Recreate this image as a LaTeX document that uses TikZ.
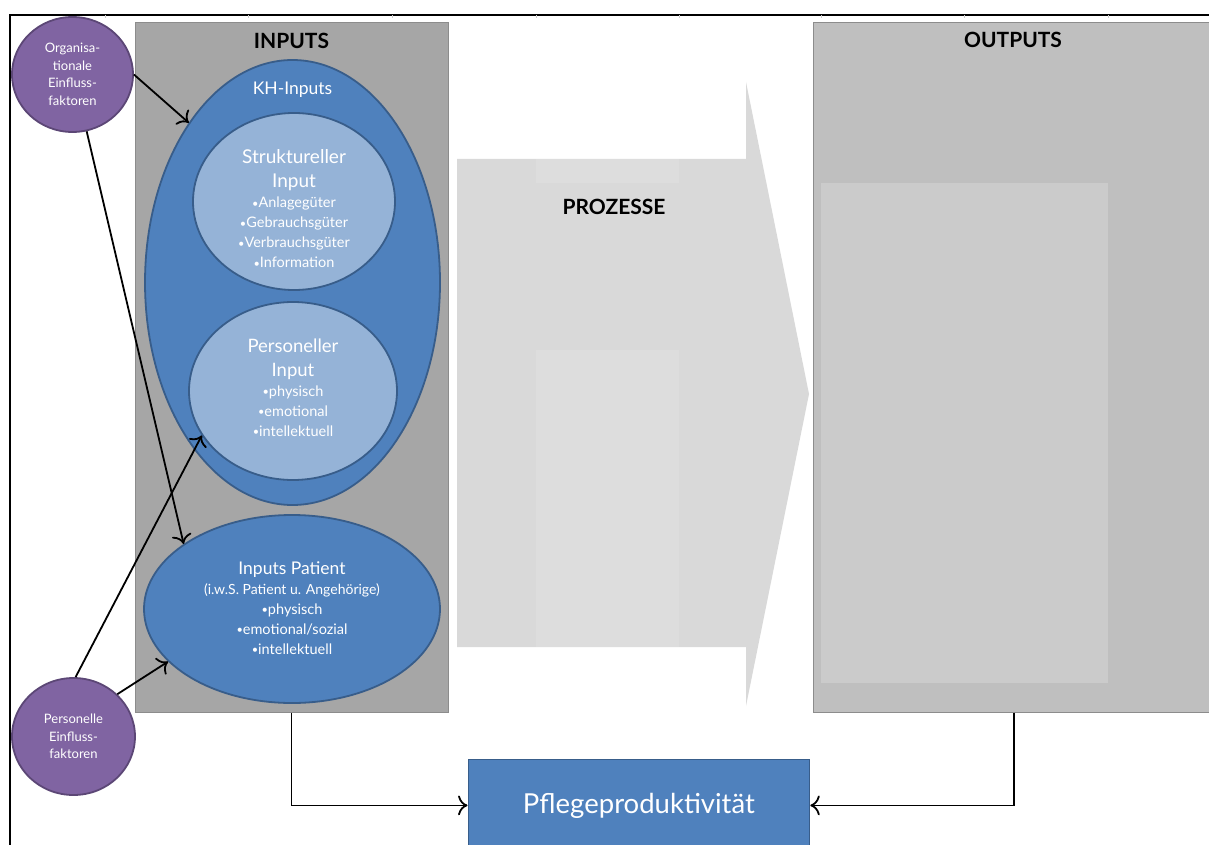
\documentclass[tikz,border=0pt]{standalone}
\usepackage{fontspec}
\setmainfont{Lato}
\usetikzlibrary{shapes.geometric,positioning,arrows.meta}

\definecolor{inputgray}{HTML}{A6A6A6}
\definecolor{panelline}{HTML}{8C8C8C}
\definecolor{outgray}{HTML}{BFBFBF}
\definecolor{outinner}{HTML}{CBCBCB}
\definecolor{prozgray}{HTML}{D9D9D9}
\definecolor{prozband}{HTML}{DDDDDD}
\definecolor{khblue}{HTML}{4F81BD}
\definecolor{khline}{HTML}{385D8A}
\definecolor{lightblue}{HTML}{95B3D7}
\definecolor{factorpurple}{HTML}{8064A2}
\definecolor{factorline}{HTML}{5C4776}

% small bullet as in the bullet lists
\newcommand{\bul}{{\fontsize{11}{11}\selectfont\raisebox{0.15ex}{•}}}

\begin{document}
\begin{tikzpicture}[x=1pt, y=-1pt, >={To[scale=1.7]},
  panel/.style={rectangle, draw=panelline, line width=1pt, inner sep=0pt},
  blueell/.style={ellipse, draw=khline, line width=1.8pt, fill=khblue, inner sep=0pt},
  lightell/.style={ellipse, draw=khline, line width=1.8pt, fill=lightblue, inner sep=0pt},
  factor/.style={ellipse, draw=factorline, line width=1.8pt, fill=factorpurple, inner sep=0pt,
    text=white, align=center, font=\fontsize{13}{17.5}\selectfont},
  title/.style={font=\fontsize{21}{24}\selectfont\bfseries},
  intext/.style={text=white, align=center, font=\fontsize{14.5}{20}\selectfont},
  link/.style={line width=1.8pt}]

  \useasboundingbox (0,0) rectangle (1209,845);

  % page frame with the faint column marks
  \draw[line width=1.6pt] (10,845) -- (10,15) -- (1209,15);
  \foreach \x in {105,248,392,536,679,821,964,1108}
    \draw[black!20, line width=0.6pt] (\x,15) -- (\x,18);

  % INPUTS panel
  \node[panel, fill=inputgray, minimum width=313, minimum height=690] (Inputs) at (291.5,367.2) {};
  \node[title] (InputsTitle) at (291.5,41) {INPUTS};

  % KH-Inputs with its two inner ellipses
  \node[blueell, minimum width=295, minimum height=445] (KH) at (292.5,282.5) {};
  \node[text=white, font=\fontsize{17.5}{20}\selectfont] (KHTitle) at (292.5,90) {KH-Inputs};
  \node[lightell, minimum width=202, minimum height=177] (Struktur) at (294,201.5) {};
  \node[intext] (StrukturText) at (294,209) {{\fontsize{19}{20}\selectfont Struktureller}\\[4pt]
    {\fontsize{19}{20}\selectfont Input}\\ \bul Anlagegüter\\ \bul Gebrauchsgüter\\ \bul Verbrauchsgüter\\ \bul Information};
  \node[lightell, minimum width=208, minimum height=178] (Personell) at (293,391) {};
  \node[intext] (PersonellText) at (293,388) {{\fontsize{18.5}{20}\selectfont Personeller}\\[4pt]
    {\fontsize{18.5}{20}\selectfont Input}\\ \bul physisch\\ \bul emotional\\ \bul intellektuell};

  % patient inputs
  \node[blueell, minimum width=296, minimum height=188] (Patient) at (292,609) {};
  \node[intext] (PatientText) at (292,608) {{\fontsize{17.5}{20}\selectfont Inputs Patient}\\
    {\fontsize{14}{14}\selectfont (i.w.S. Patient u. Angehörige)}\\ \bul physisch\\ \bul emotional/sozial\\ \bul intellektuell};

  % PROZESSE arrow
  \fill[prozgray] (457,159) -- (746,159) -- (746,82) -- (809,394) -- (746,706) -- (746,647) -- (457,647) -- cycle;
  \fill[prozband] (536,159) rectangle (679,183);
  \fill[prozband] (536,350) rectangle (679,647);
  \node[title] (ProzesseTitle) at (614,207) {PROZESSE};

  % OUTPUTS panel
  \node[panel, fill=outgray, anchor=north west, minimum width=402, minimum height=689] (Outputs) at (812.5,22.5) {};
  \fill[outinner] (821,183) rectangle (1108,683);
  \node[title] (OutputsTitle) at (1013,40) {OUTPUTS};

  % influence factors
  \node[factor, minimum width=121, minimum height=115] (Org) at (72.5,74.5) {Organisa-\\tionale\\Einfluss-\\faktoren};
  \node[factor, minimum width=123, minimum height=117] (Pers) at (73.5,736.5) {Personelle\\Einfluss-\\faktoren};

  % result
  \node[rectangle, draw=khline, line width=1.8pt, fill=khblue, anchor=north west, minimum width=341,
    minimum height=92, text=white, font=\fontsize{27.5}{32}\selectfont] (Pflege) at (467.5,758.5) {Pflegeproduktivität};

  % edges
  \draw[->, link] (Org.east) -- (KH.123);
  \draw[->, link] (Org.-76) -- (Patient.149);
  \draw[->, link] (Pers.88) -- (Personell.206);
  \draw[->, link] (Pers.44) -- (Patient.203);
  \draw[->, link] (Inputs.south) |- (Pflege.west);
  \draw[->, link] (Outputs.south) |- (Pflege.east);

\end{tikzpicture}
\end{document}
